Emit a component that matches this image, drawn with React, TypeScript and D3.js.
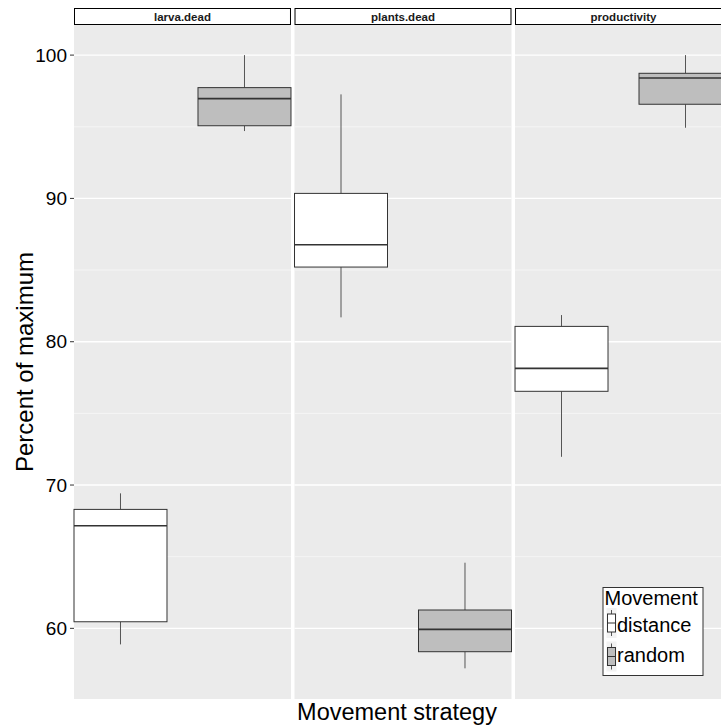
import React from "react";
import * as d3 from "d3";

const facets = ["larva.dead", "plants.dead", "productivity"];
const groups = ["distance", "random"];
// [lower whisker, Q1, median, Q3, upper whisker] per facet
const distanceStats = [
  [58.88, 60.46, 67.16, 68.3, 69.42],
  [81.7, 85.21, 86.77, 90.35, 97.26],
  [71.97, 76.54, 78.14, 81.07, 81.86],
];
const randomStats = [
  [94.7, 95.07, 96.96, 97.73, 100],
  [57.21, 58.37, 59.93, 61.28, 64.58],
  [94.93, 96.57, 98.4, 98.73, 100],
];
const yTicks = [60, 70, 80, 90, 100];
const yMinor = [65, 75, 85, 95];
const fills = ["#FFFFFF", "#BEBEBE"];

const W = 721;
const H = 728;
const FONT = "'Liberation Sans', Arial, Helvetica, sans-serif";

export default function App() {
  const panelTop = 25;
  const panelBottom = 699;
  const y = d3.scaleLinear().domain([55.07, 102.1]).range([panelBottom, panelTop]);
  const xPanel = d3.scaleBand<string>().domain(facets).range([74, 732]).paddingInner(0.016);
  const pw = xPanel.bandwidth();
  const xGroup = d3.scaleBand<string>().domain(groups).range([0, pw]).paddingInner(0.25).paddingOuter(0);
  const bw = xGroup.bandwidth();
  const statsByGroup = [distanceStats, randomStats];

  return (
    <svg width={W} height={H} style={{ display: "block", position: "absolute", left: 0, top: 0 }} fontFamily={FONT}>
      <rect x={0} y={0} width={W} height={H} fill="#fff" />
      {facets.map((f, fi) => {
        const px = xPanel(f)!;
        return (
          <g key={f}>
            <rect x={px} y={panelTop} width={pw} height={panelBottom - panelTop} fill="#EBEBEB" />
            {yMinor.map((t) => (
              <line key={"m" + t} x1={px} x2={px + pw} y1={y(t)} y2={y(t)} stroke="#F5F5F5" strokeWidth={1} />
            ))}
            {yTicks.map((t) => (
              <line key={"M" + t} x1={px} x2={px + pw} y1={y(t)} y2={y(t)} stroke="#FFFFFF" strokeWidth={1.4} />
            ))}
            {/* strip */}
            <rect x={px + 0.5} y={8.5} width={pw - 1} height={16} fill="#fff" stroke="#000" strokeWidth={1} />
            <text x={px + pw / 2} y={20.5} textAnchor="middle" fontSize={11.5} fontWeight="bold" fill="#1a1a1a">
              {f}
            </text>
            {groups.map((g, gi) => {
              const s = statsByGroup[gi][fi];
              const gx = px + xGroup(g)!;
              const cx = gx + bw / 2;
              return (
                <g key={g}>
                  <line x1={cx} x2={cx} y1={y(s[4])} y2={y(s[3])} stroke="#555" strokeWidth={1} />
                  <line x1={cx} x2={cx} y1={y(s[1])} y2={y(s[0])} stroke="#555" strokeWidth={1} />
                  <rect x={gx} y={y(s[3])} width={bw} height={y(s[1]) - y(s[3])} fill={fills[gi]} stroke="#333" strokeWidth={1} />
                  <line x1={gx} x2={gx + bw} y1={y(s[2])} y2={y(s[2])} stroke="#333" strokeWidth={1.6} />
                </g>
              );
            })}
          </g>
        );
      })}
      {/* y axis */}
      {yTicks.map((t) => (
        <g key={t}>
          <line x1={70} x2={74} y1={y(t)} y2={y(t)} stroke="#333" strokeWidth={1} />
          <text x={67} y={y(t)} dy="0.35em" textAnchor="end" fontSize={19} fill="#000">
            {t}
          </text>
        </g>
      ))}
      <text transform={`translate(33,${(panelTop + panelBottom) / 2}) rotate(-90)`} textAnchor="middle" fontSize={24} fill="#000">
        Percent of maximum
      </text>
      <text x={397} y={720} textAnchor="middle" fontSize={23.5} fill="#000">
        Movement strategy
      </text>
      {/* legend */}
      <g>
        <rect x={603} y={587.5} width={100} height={88} fill="#fff" stroke="#333" strokeWidth={1} />
        <text x={604.5} y={605} fontSize={20} fill="#000">Movement</text>
        {groups.map((g, gi) => {
          const ky = 608 + gi * 33.5;
          const kx = 606.5;
          return (
            <g key={g}>
              <rect x={kx} y={ky} width={10} height={30} fill="#F2F2F2" />
              <line x1={kx + 5} x2={kx + 5} y1={ky + 2} y2={ky + 28} stroke="#555" strokeWidth={1} />
              <rect x={kx + 1} y={ky + 6} width={8} height={18} fill={fills[gi]} stroke="#333" strokeWidth={1} />
              <line x1={kx + 1} x2={kx + 9} y1={ky + 15} y2={ky + 15} stroke="#333" strokeWidth={1} />
              <text x={617} y={632 + gi * 30} fontSize={20} fill="#000">{g}</text>
            </g>
          );
        })}
      </g>
    </svg>
  );
}
